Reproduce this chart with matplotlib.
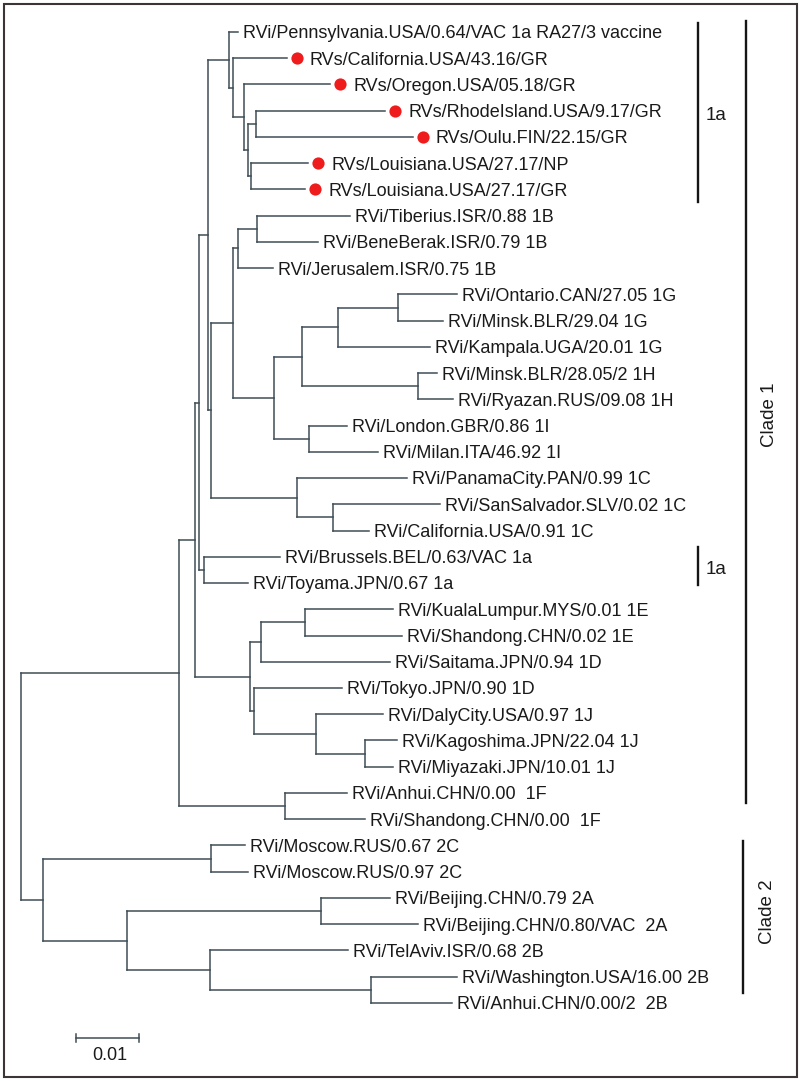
"""Rooted phylogenetic tree (rectangular layout) with clade bars and a scale bar."""
import matplotlib
matplotlib.use("Agg")
import matplotlib.pyplot as plt
import matplotlib.transforms as mtransforms
from matplotlib.collections import LineCollection
from matplotlib.patches import Rectangle

# Leaves, top to bottom
taxa = [
    "RVi/Pennsylvania.USA/0.64/VAC 1a RA27/3 vaccine",
    "RVs/California.USA/43.16/GR",
    "RVs/Oregon.USA/05.18/GR",
    "RVs/RhodeIsland.USA/9.17/GR",
    "RVs/Oulu.FIN/22.15/GR",
    "RVs/Louisiana.USA/27.17/NP",
    "RVs/Louisiana.USA/27.17/GR",
    "RVi/Tiberius.ISR/0.88 1B",
    "RVi/BeneBerak.ISR/0.79 1B",
    "RVi/Jerusalem.ISR/0.75 1B",
    "RVi/Ontario.CAN/27.05 1G",
    "RVi/Minsk.BLR/29.04 1G",
    "RVi/Kampala.UGA/20.01 1G",
    "RVi/Minsk.BLR/28.05/2 1H",
    "RVi/Ryazan.RUS/09.08 1H",
    "RVi/London.GBR/0.86 1I",
    "RVi/Milan.ITA/46.92 1I",
    "RVi/PanamaCity.PAN/0.99 1C",
    "RVi/SanSalvador.SLV/0.02 1C",
    "RVi/California.USA/0.91 1C",
    "RVi/Brussels.BEL/0.63/VAC 1a",
    "RVi/Toyama.JPN/0.67 1a",
    "RVi/KualaLumpur.MYS/0.01 1E",
    "RVi/Shandong.CHN/0.02 1E",
    "RVi/Saitama.JPN/0.94 1D",
    "RVi/Tokyo.JPN/0.90 1D",
    "RVi/DalyCity.USA/0.97 1J",
    "RVi/Kagoshima.JPN/22.04 1J",
    "RVi/Miyazaki.JPN/10.01 1J",
    "RVi/Anhui.CHN/0.00  1F",
    "RVi/Shandong.CHN/0.00  1F",
    "RVi/Moscow.RUS/0.67 2C",
    "RVi/Moscow.RUS/0.97 2C",
    "RVi/Beijing.CHN/0.79 2A",
    "RVi/Beijing.CHN/0.80/VAC  2A",
    "RVi/TelAviv.ISR/0.68 2B",
    "RVi/Washington.USA/16.00 2B",
    "RVi/Anhui.CHN/0.00/2  2B",
]

# distance of each leaf from the root (substitutions/site)
tip_depth = [
    0.0344, 0.0422, 0.0491, 0.0578, 0.0622, 0.0456, 0.0451,
    0.0522, 0.0471, 0.0400,
    0.0692, 0.0670, 0.0649, 0.0660, 0.0686, 0.0517, 0.0567,
    0.0613, 0.0665, 0.0552,
    0.0411, 0.0360,
    0.0590, 0.0605, 0.0586, 0.0510, 0.0575, 0.0597, 0.0590,
    0.0517, 0.0546,
    0.0356, 0.0360, 0.0586, 0.0630, 0.0519, 0.0692, 0.0684,
]

# sequences from this study (red dots)
marked = [1, 2, 3, 4, 5, 6]

# internal nodes: name, distance from root, children (int = leaf, str = node)
node_names = ["R", "C1", "I", "H", "G", "A", "B", "C", "D", "E", "F",
              "J", "K", "N1B", "TB", "L", "M", "G1", "OM", "H1", "LM",
              "P", "SC", "BT", "AS", "KSS", "KS", "TD", "DK", "KM", "F1",
              "C2", "MO", "BTW", "BJ", "TW", "WA"]
node_depth = [0.0, 0.0251, 0.0276, 0.0283, 0.0297, 0.0330, 0.0337, 0.0354,
              0.0360, 0.0373, 0.0365,
              0.0302, 0.0337, 0.0344, 0.0375, 0.0402, 0.0446, 0.0503, 0.0598,
              0.0630, 0.0457,
              0.0438, 0.0495, 0.0290, 0.0363, 0.0381, 0.0451, 0.0370, 0.0468,
              0.0546, 0.0419,
              0.0035, 0.0302, 0.0168, 0.0476, 0.0300, 0.0556]
node_children = [("C1", "C2"), ("I", "F1"), ("H", "AS"), ("G", "BT"),
                 ("A", "J"), (0, "B"), (1, "C"), (2, "D"), ("E", "F"),
                 (3, 4), (5, 6),
                 ("K", "P"), ("N1B", "L"), ("TB", 9), (7, 8), ("M", "LM"),
                 ("G1", "H1"), ("OM", 12), (10, 11), (13, 14), (15, 16),
                 (17, "SC"), (18, 19), (20, 21), ("KSS", "TD"), ("KS", 24),
                 (22, 23), (25, "DK"), (26, "KM"), (27, 28), (29, 30),
                 ("MO", "BTW"), (31, 32), ("BJ", "TW"), (33, 34), (35, "WA"),
                 (36, 37)]

scale_len = 0.01

# --- layout -------------------------------------------------------------
W, H = 800, 1081
PX_PER_UNIT = 6300.0
ROOT_PX = 21
LEAF0_PX, LEAF_STEP = 32, 26.24

branch_col = "#3e4d56"
text_col = "#1a1a1a"
FS = 13.0
FONT = ["Liberation Sans", "DejaVu Sans"]

depth = dict(zip(node_names, node_depth))
children = dict(zip(node_names, node_children))


def xy_of(c):
    if isinstance(c, int):
        return tip_depth[c], float(c)
    return depth[c], node_y[c]


node_y = {}


def resolve(name):
    ys = []
    for c in children[name]:
        if isinstance(c, str):
            resolve(c)
        ys.append(xy_of(c)[1])
    node_y[name] = (min(ys) + max(ys)) / 2.0


resolve("R")

fig = plt.figure(figsize=(W / 100, H / 100), dpi=100)
fig.patch.set_facecolor("white")
ax = fig.add_axes([0, 0, 1, 1])
ax.axis("off")
ax.set_xlim(-ROOT_PX / PX_PER_UNIT, (W - ROOT_PX) / PX_PER_UNIT)
ax.set_ylim((H - LEAF0_PX) / LEAF_STEP, -LEAF0_PX / LEAF_STEP)

segs = []
for name in node_names:
    x = depth[name]
    ys = [xy_of(c)[1] for c in children[name]]
    segs.append([(x, min(ys)), (x, max(ys))])
    for c in children[name]:
        cx, cy = xy_of(c)
        segs.append([(x, cy), (cx, cy)])
ax.add_collection(LineCollection(segs, colors=branch_col, linewidths=1.1,
                                 capstyle="projecting"))

# leaf labels and dots
lab_tr = mtransforms.offset_copy(ax.transData, fig=fig, x=0, y=-4.6, units="points")
for i, name in enumerate(taxa):
    x = tip_depth[i]
    if i in marked:
        ax.plot(x + 10 / PX_PER_UNIT, i, "o", color="#ee1c1c", markersize=8.8,
                markeredgewidth=0, zorder=4)
        gap = 23
    else:
        gap = 5
    ax.text(x + gap / PX_PER_UNIT, i, name, transform=lab_tr, fontsize=FS,
            family=FONT, color=text_col, ha="left", va="baseline")

# scale bar
sb_x = (76 - ROOT_PX) / PX_PER_UNIT
sb_y = (1038 - LEAF0_PX) / LEAF_STEP
ax.plot([sb_x, sb_x + scale_len], [sb_y, sb_y], color=branch_col, lw=1.1)
for xe in (sb_x, sb_x + scale_len):
    ax.plot([xe, xe], [sb_y - 0.15, sb_y + 0.15], color=branch_col, lw=1.1)
ax.text(sb_x + scale_len / 2 + 2 / PX_PER_UNIT, sb_y + 0.65, f"{scale_len:g}",
        fontsize=FS, family=FONT, color=text_col, ha="center", va="center")


def fpx(x, y):
    return x / W, 1 - y / H


def vbar(x, y0, y1):
    (fx, fy0), (_, fy1) = fpx(x, y0), fpx(x, y1)
    fig.add_artist(plt.Line2D([fx, fx], [fy0, fy1], color="#151515", lw=1.7,
                              transform=fig.transFigure))


vbar(698, 23, 202)
fig.text(*fpx(706, 115), "1a", fontsize=FS + 0.5, family=FONT, color=text_col,
         ha="left", va="center")
vbar(698, 547, 585)
fig.text(*fpx(706, 569), "1a", fontsize=FS + 0.5, family=FONT, color=text_col,
         ha="left", va="center")
vbar(746, 21, 803)
fig.text(*fpx(770, 415), "Clade 1", fontsize=FS + 0.5, family=FONT,
         color=text_col, rotation=90, ha="center", va="center")
vbar(743, 841, 993)
fig.text(*fpx(768, 912), "Clade 2", fontsize=FS + 0.5, family=FONT,
         color=text_col, rotation=90, ha="center", va="center")

# outer frame
fx0, fy0 = fpx(3.5, 1076.5)
fx1, fy1 = fpx(796.5, 3.5)
fig.add_artist(Rectangle((fx0, fy0), fx1 - fx0, fy1 - fy0, fill=False,
                         edgecolor="#3d3535", lw=1.5, transform=fig.transFigure))

fig.savefig("out.png", dpi=100, facecolor="white")
